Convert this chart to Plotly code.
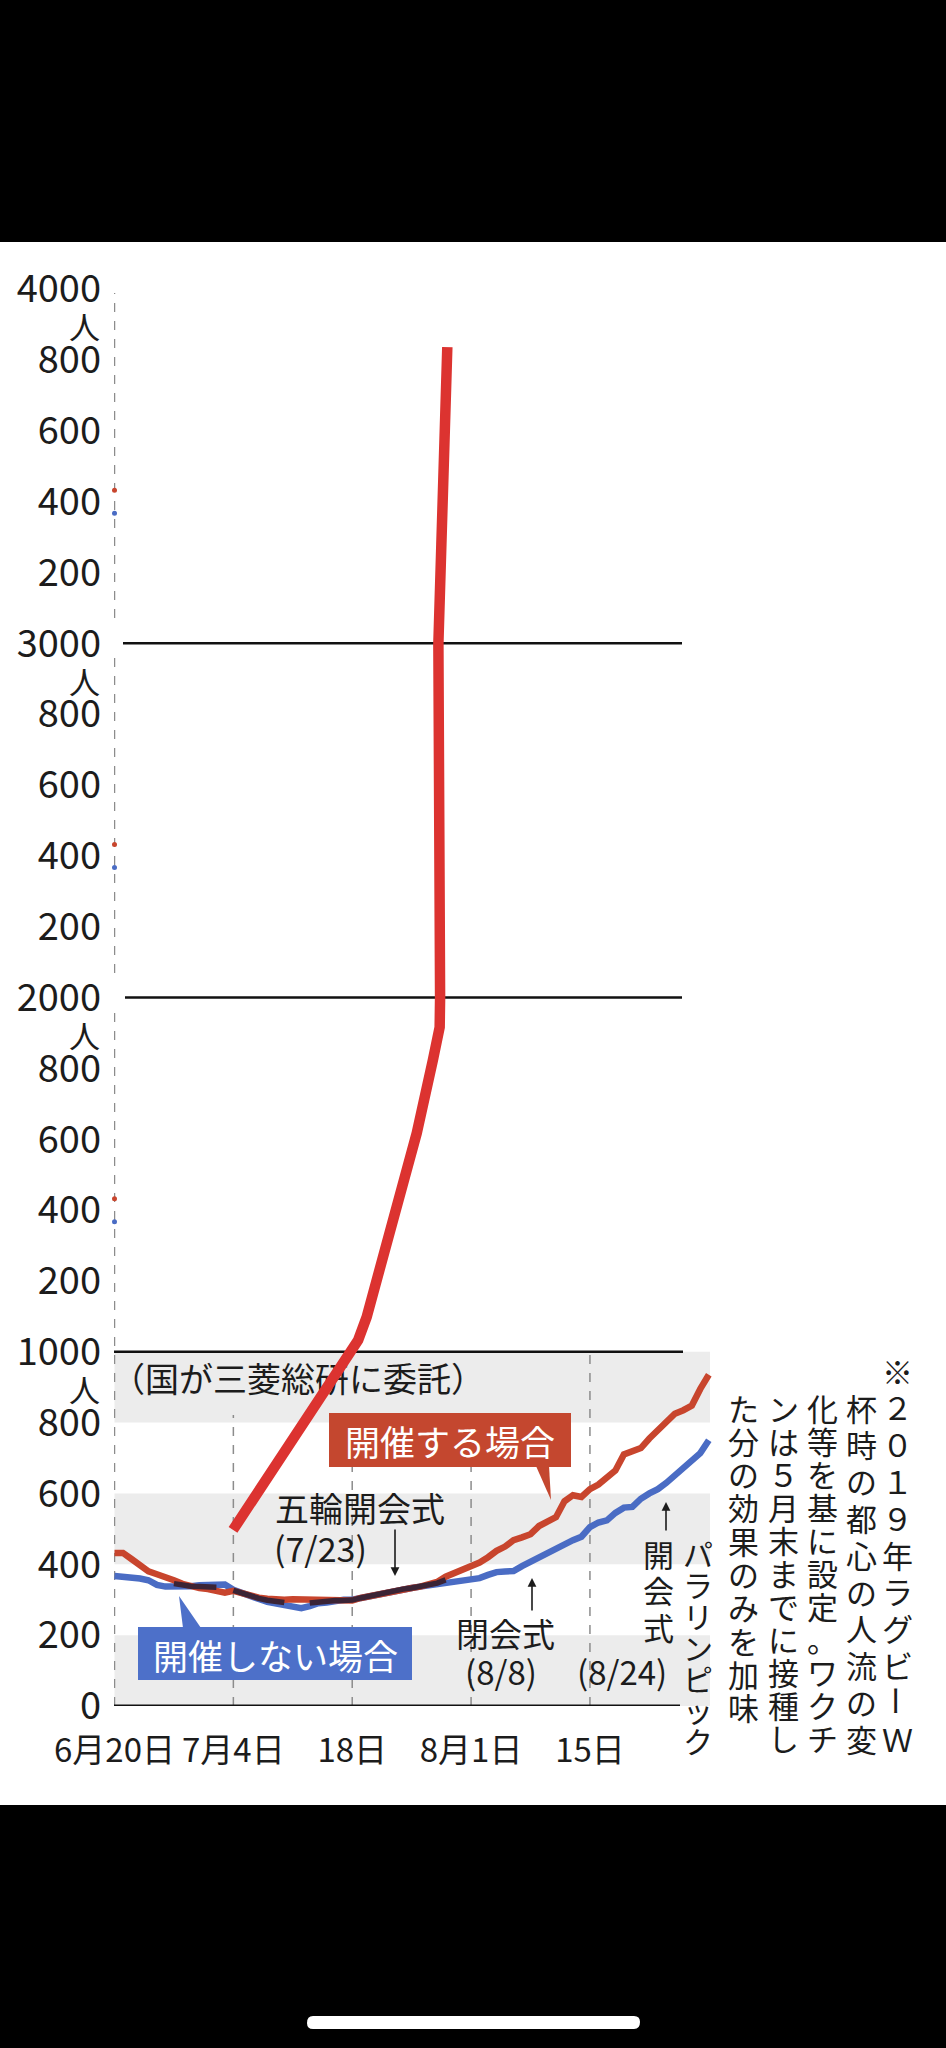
import plotly.graph_objects as go

# ---------------- data ----------------
days = list(range(71))  # days since 6/20
held = [432, 432, 415, 395, 380, 372, 365, 355, 345, 338, 333, 330, 326, 320, 325, 318, 312, 306, 303, 300,
        300, 301, 300, 299, 298, 298, 297, 295, 298, 305, 310, 315, 320, 327, 330, 333, 337, 342, 350, 365,
        375, 385, 395, 405, 420, 438, 450, 468, 476, 485, 508, 520, 533, 578, 595, 590, 612, 625, 645, 665,
        710, 718, 728, 755, 780, 805, 825, 835, 848, 895, 935]
not_held = [367, 366, 364, 360, 355, 342, 337, 336, 336, 338, 341, 343, 344, 343, 328, 318, 309, 302, 294, 289,
            284, 278, 276, 282, 290, 292, 298, 300, 300, 305, 310, 315, 320, 327, 330, 333, 337, 340, 344, 347,
            352, 356, 358, 361, 370, 378, 380, 381, 395, 408, 420, 432, 445, 458, 468, 478, 505, 518, 524, 545,
            560, 562, 585, 600, 612, 630, 650, 672, 690, 714, 750]
drawn_day = [13.96, 28.7, 29.7, 32.4, 35.6, 37.5, 38.3, 38.35, 38.15, 38.5, 38.85, 39.2]
drawn_val = [497, 1033, 1098, 1335, 1617, 1823, 1916, 2000, 3000, 3280, 3560, 3836]

xtick_days = [0, 14, 28, 42, 56]
xtick_labels = ["6月20日", "7月4日", "18日", "8月1日", "15日"]
ytick_vals = list(range(0, 4001, 200))
ytick_labels = [str(v) if v % 1000 == 0 else str(v % 1000) for v in ytick_vals]
thousands = [1000, 2000, 3000, 4000]

note_cols = ["※２０１９年ラグビーＷ", "杯時の都心の人流の変", "化等を基に設定。ワクチ",
             "ンは５月末までに接種し", "た分の効果のみを加味"]

# ---------------- geometry helpers (pixel -> data / paper) ----------------
W, H = 946, 2048
PL, PR, PT, PB = 114, 720, 289, 1706
X0_PX, PPD = 114.5, 8.49
YPPU = (PB - PT) / 4000.0


def X(px):
    return (px - X0_PX) / PPD


def Y(py):
    return (PB - py) / YPPU


def PXp(px):
    return (px - PL) / (PR - PL)


def PYp(py):
    return (PB - py) / (PB - PT)


FONT = "Noto Sans CJK JP"
INK = "#1c1c1c"
RED = "#c8452d"
BLUE = "#4a6cc4"
DARK = "#3b2436"
DRAWN = "#dc3330"

fig = go.Figure()

# data lines
fig.add_trace(go.Scatter(x=days, y=not_held, mode="lines", line=dict(color=BLUE, width=6.5), hoverinfo="skip"))
fig.add_trace(go.Scatter(x=days, y=held, mode="lines", line=dict(color=RED, width=6.5), hoverinfo="skip"))
overlap = [(r + b) / 2 if abs(r - b) <= 20 and d >= 3 else None for d, r, b in zip(days, held, not_held)]
fig.add_trace(go.Scatter(x=days, y=overlap, mode="lines", line=dict(color=DARK, width=5.5), hoverinfo="skip"))

# remnant dots in upper panels
for k in (1, 2, 3):
    fig.add_trace(go.Scatter(x=[0, 0], y=[held[0] + k * 1000, not_held[0] + k * 1000], mode="markers",
                             marker=dict(color=[RED, BLUE], size=5), cliponaxis=False, hoverinfo="skip"))

# source text (under the hand-drawn line)
fig.add_trace(go.Scatter(x=[X(298)], y=[Y(1383)], mode="text", text=["（国が三菱総研に委託）"],
                         textfont=dict(family=FONT, size=34, color=INK), cliponaxis=False, hoverinfo="skip"))

# tick triangles
fig.add_trace(go.Scatter(x=xtick_days, y=[Y(1717)] * len(xtick_days), mode="markers",
                         marker=dict(symbol="triangle-up", size=12, color="#7a7a7a"), cliponaxis=False,
                         hoverinfo="skip"))

# hand drawn line
fig.add_trace(go.Scatter(x=drawn_day, y=drawn_val, mode="lines", line=dict(color=DRAWN, width=10.5),
                         cliponaxis=False, hoverinfo="skip"))

shapes = []
# gray bands
for lo in (0, 400, 800):
    shapes.append(dict(type="rect", xref="x", yref="y", x0=0, x1=X(710), y0=lo, y1=lo + 200,
                       fillcolor="#ececec", line=dict(width=0), layer="below"))
# dashed verticals
dash_segments = [(0, 0, Y(1013)), (0, Y(973), Y(658)), (0, Y(618), Y(293)),
                 (14, 0, Y(1415)), (28, 0, Y(1467)), (42, 0, Y(1467)), (56, 0, 1000)]
for d, a, b in dash_segments:
    shapes.append(dict(type="line", xref="x", yref="y", x0=d, x1=d, y0=a, y1=b,
                       line=dict(color="#8c8c8c", width=1.5, dash="dash"), layer="below"))
# black horizontal lines
hlines = [(0, X(113), X(680), 3), (1000, X(113), X(683), 2.5), (2000, X(125), X(682), 2.5),
          (3000, X(123), X(682), 2.5)]
for v, a, b, w in hlines:
    shapes.append(dict(type="line", xref="x", yref="y", x0=a, x1=b, y0=v, y1=v,
                       line=dict(color="#111111", width=w), layer="below"))

# label boxes
shapes.append(dict(type="rect", xref="x", yref="y", x0=X(329), x1=X(571), y0=Y(1467), y1=Y(1413),
                   fillcolor="#c4472f", line=dict(width=0), layer="above"))
shapes.append(dict(type="path", xref="x", yref="y",
                   path=f"M {X(536)},{Y(1466)} L {X(549)},{Y(1466)} L {X(551)},{Y(1500)} Z",
                   fillcolor="#c4472f", line=dict(width=0), layer="above"))
shapes.append(dict(type="rect", xref="x", yref="y", x0=X(138), x1=X(412), y0=Y(1680), y1=Y(1627),
                   fillcolor="#4d70c9", line=dict(width=0), layer="above"))
shapes.append(dict(type="path", xref="x", yref="y",
                   path=f"M {X(179)},{Y(1596)} L {X(183)},{Y(1628)} L {X(201)},{Y(1628)} Z",
                   fillcolor="#4d70c9", line=dict(width=0), layer="above"))

# phone frame (black bars + home indicator)
shapes.append(dict(type="rect", xref="paper", yref="paper", x0=PXp(0), x1=PXp(W), y0=PYp(242), y1=PYp(0),
                   fillcolor="black", line=dict(width=0)))
shapes.append(dict(type="rect", xref="paper", yref="paper", x0=PXp(0), x1=PXp(W), y0=PYp(H), y1=PYp(1805),
                   fillcolor="black", line=dict(width=0)))


def rounded(x0, y0, x1, y1, r):
    pts = [f"M {PXp(x0 + r)},{PYp(y0)}", f"L {PXp(x1 - r)},{PYp(y0)}",
           f"Q {PXp(x1)},{PYp(y0)} {PXp(x1)},{PYp(y0 + r)}",
           f"Q {PXp(x1)},{PYp(y1)} {PXp(x1 - r)},{PYp(y1)}",
           f"L {PXp(x0 + r)},{PYp(y1)}",
           f"Q {PXp(x0)},{PYp(y1)} {PXp(x0)},{PYp(y1 - r)}",
           f"Q {PXp(x0)},{PYp(y0)} {PXp(x0 + r)},{PYp(y0)} Z"]
    return " ".join(pts)


shapes.append(dict(type="path", xref="paper", yref="paper", path=rounded(307, 2016, 640, 2029, 6),
                   fillcolor="white", line=dict(width=0)))

ann = []


def text(px, py, s, size=34, color=INK, xanchor="center", angle=0):
    ann.append(dict(x=PXp(px), y=PYp(py), xref="paper", yref="paper", text=s, showarrow=False,
                    xanchor=xanchor, yanchor="middle", textangle=angle,
                    font=dict(family=FONT, size=size, color=color)))


# 人 under thousands
for v in thousands:
    text(84, PB - v * YPPU + 37, "人", size=31)

text(450, 1440, "開催する場合", size=35, color="white")
text(275, 1654, "開催しない場合", size=35, color="white")
text(273, 1507, "五輪開会式", size=34, xanchor="left")
text(272, 1547, "(7/23)", size=34, xanchor="left")
text(506, 1633, "閉会式", size=33)
text(501, 1671, "(8/8)", size=33)
text(622, 1671, "(8/24)", size=33)

# arrows
for hx, hy, ay in [(395, 1576, -48), (532, 1578, 34), (666, 1502, 30)]:
    ann.append(dict(x=PXp(hx), y=PYp(hy), xref="paper", yref="paper", ax=0, ay=ay, text="",
                    showarrow=True, arrowhead=2, arrowsize=1.1, arrowwidth=1.6, arrowcolor=INK))

# vertical note columns
col_specs = [(898, 1370, 36.8), (861, 1407, 36.8), (822, 1407, 33.0), (783, 1407, 33.0), (743, 1407, 33.3)]
for (cx, cy, pitch), s in zip(col_specs, note_cols):
    for i, ch in enumerate(s):
        text(cx, cy + i * pitch, ch, size=31, angle=90 if ch == "ー" else 0)
for i, ch in enumerate("パラリンピック"):
    text(698, 1553 + i * 31.2, ch, size=30)
for i, ch in enumerate("開会式"):
    text(658, 1553 + i * 36.7, ch, size=31)

fig.update_layout(
    width=W, height=H,
    margin=dict(l=PL, r=W - PR, t=PT, b=H - PB, pad=0),
    paper_bgcolor="white", plot_bgcolor="white",
    showlegend=False,
    shapes=shapes, annotations=ann,
    xaxis=dict(range=[X(PL), X(PR)], showgrid=False, zeroline=False, showline=False,
               tickmode="array", tickvals=xtick_days, ticktext=xtick_labels, ticks="",
               tickfont=dict(family=FONT, size=33, color=INK), ticklabelstandoff=22, fixedrange=True),
    yaxis=dict(range=[0, 4000], showgrid=False, zeroline=False, showline=False,
               tickmode="array", tickvals=ytick_vals, ticktext=ytick_labels, ticks="",
               tickfont=dict(family=FONT, size=38, color=INK), ticklabelstandoff=12, fixedrange=True),
)

fig.write_html("out.html", config={"displayModeBar": False},
               post_script="document.body.style.margin='0';document.body.style.overflow='hidden';")
